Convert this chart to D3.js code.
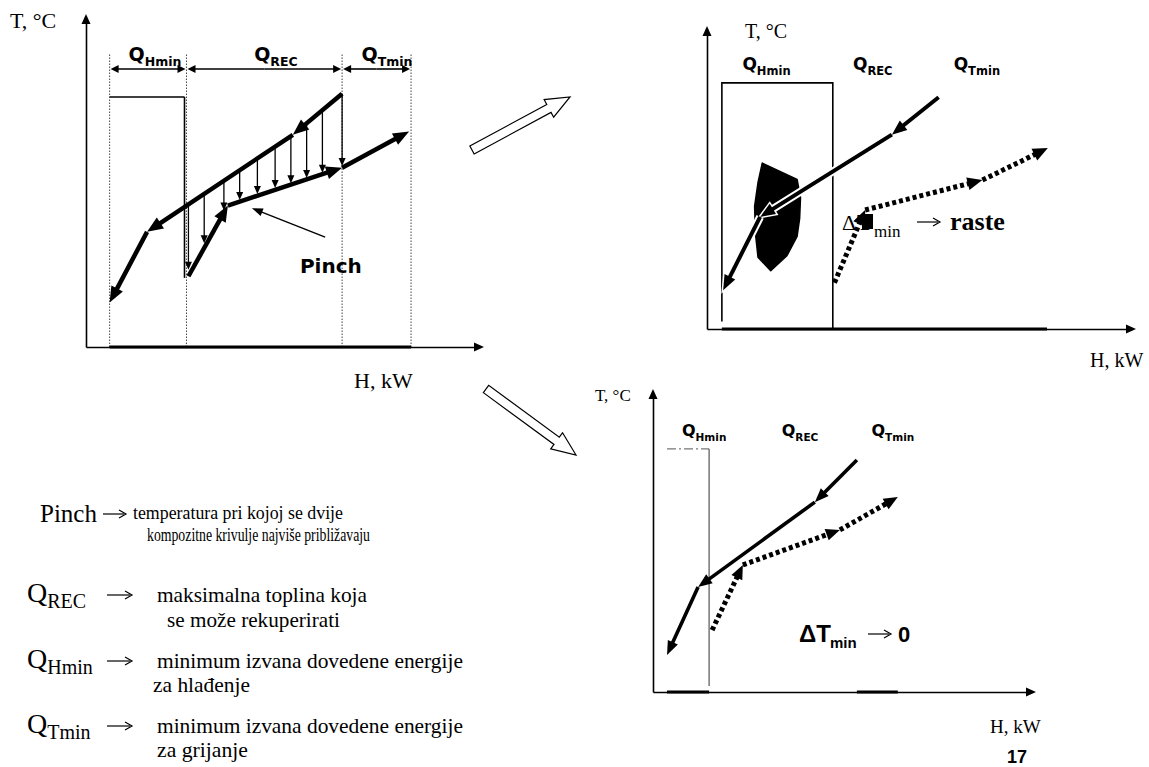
<!DOCTYPE html>
<html>
<head>
<meta charset="utf-8">
<script src="https://cdn.jsdelivr.net/npm/d3@7"></script>
<style>
  body { margin: 0; background: #fff; }
  svg { display: block; }
</style>
</head>
<body>
<div id="chart"></div>
<script>
const black = "#000";
const serif = "'Liberation Serif', 'Times New Roman', serif";
const sansWide = "'DejaVu Sans', Verdana, sans-serif";
const sans = "'Liberation Sans', Arial, sans-serif";

const qNames = ["Hmin", "REC", "Tmin"];

// top-left: H and T as % of axis length
const p1Dividers = [6, 25.5, 65, 82.5];
const p1LabelH = [17.5, 48.2, 76.4];
const p1Hot = [[65, 77], [52.5, 64.5], [15.5, 35], [6, 13.5]];
const p1Cold = [[26, 21.5], [36, 43], [65, 54.5], [82, 65.5]];
const p1DropH = [26, 30, 35, 39, 43.5, 48, 52, 56, 60, 65];
const p1DropTop = [43.4, 46.6, 50.5, 53.7, 57.3, 60.9, 64.1, 68, 72, 77];
const p1DropBottom = [23.5, 31.5, 41.5, 44.7, 46.5, 48.3, 49.8, 51.4, 53, 55];
const p1Box = [6, 25, 76, 21]; // left H, right H, top T, bottom T of right edge
const p1Pinch = [[60.7, 33.4], [42.1, 42.2]];

// top-right: wider ΔTmin
const p2LabelH = [14, 39, 63.5];
const p2Hot = [[54.5, 77.5], [43.5, 65], [12.5, 37.5], [3.8, 13]];
const p2Cold = [[30, 15.5], [37.2, 39.8], [64.8, 49.8], [80.2, 60.5]];
const p2Box = [3.5, 29.6, 82.3];
const p2Base = [3.5, 80];
const p2Blob = [[13, 55.5], [21.2, 50], [22, 44], [21.8, 37], [21.2, 31], [18.8, 24.5],
  [15, 19.5], [12, 24], [11.4, 32], [11.2, 41], [12, 49]];

// bottom-right: ΔTmin -> 0
const p3LabelH = [13.5, 38.8, 63.3];
const p3Hot = [[53.8, 77.6], [42.7, 63.5], [11.9, 35.1], [3.7, 12.4]];
const p3Cold = [[15.6, 20.7], [23.7, 42.5], [49.3, 54.2], [64.6, 65.2]];
const p3Box = [3.7, 14.8, 81.3];
const p3Base = [[3.7, 14.8], [53.8, 64.6]];

// legend
const legendTerms = ["Pinch", "REC", "Hmin", "Tmin"];
const legendLines = [
  ["temperatura pri kojoj se dvije", "kompozitne krivulje najviše približavaju"],
  ["maksimalna toplina koja", "se može  rekuperirati"],
  ["minimum izvana dovedene energije", "za hlađenje"],
  ["minimum izvana dovedene energije", "za grijanje"]
];

const svg = d3.select("#chart").append("svg")
  .attr("width", 1149).attr("height", 767)
  .style("background", "#fff");

function arrow(g, a, b, o) {
  const dx = b[0] - a[0], dy = b[1] - a[1];
  const len = Math.hypot(dx, dy);
  const ux = dx / len, uy = dy / len;
  const L = o.head, W = o.headW / 2;
  const base = [b[0] - ux * L, b[1] - uy * L];
  const end = [b[0] - ux * L * 0.6, b[1] - uy * L * 0.6];
  const tri = `M${b[0]},${b[1]}L${base[0] - uy * W},${base[1] + ux * W}L${base[0] + uy * W},${base[1] - ux * W}Z`;
  if (o.halo) {
    g.append("line")
      .attr("x1", a[0]).attr("y1", a[1]).attr("x2", end[0]).attr("y2", end[1])
      .attr("stroke", "#fff").attr("stroke-width", o.width + 4);
    g.append("path").attr("d", tri).attr("fill", "#fff")
      .attr("stroke", "#fff").attr("stroke-width", 3);
  }
  g.append("line")
    .attr("x1", a[0]).attr("y1", a[1]).attr("x2", end[0]).attr("y2", end[1])
    .attr("stroke", black).attr("stroke-width", o.width)
    .attr("stroke-dasharray", o.dash || null);
  g.append("path").attr("d", tri).attr("fill", black);
}

// thin "→" sign, drawn so it keeps its length in every font
function textArrow(g, x0, x1, yy) {
  g.append("line").attr("x1", x0).attr("x2", x1 - 2).attr("y1", yy).attr("y2", yy)
    .attr("stroke", black).attr("stroke-width", 1.2);
  g.append("path")
    .attr("d", `M${x1 - 7},${yy - 4}L${x1},${yy}L${x1 - 7},${yy + 4}`)
    .attr("fill", "none").attr("stroke", black).attr("stroke-width", 1.2);
}

function curve(g, pts, x, y, o) {
  for (let i = 0; i < pts.length - 1; i++) {
    arrow(g, [x(pts[i][0]), y(pts[i][1])], [x(pts[i + 1][0]), y(pts[i + 1][1])], o);
  }
}

function axes(g, x, y, w) {
  g.append("g").attr("transform", `translate(0,${y(0)})`)
    .call(d3.axisBottom(x).tickValues([]).tickSizeOuter(0))
    .call((s) => s.select(".domain").attr("stroke-width", w));
  g.append("g").attr("transform", `translate(${x(0)},0)`)
    .call(d3.axisLeft(y).tickValues([]).tickSizeOuter(0))
    .call((s) => s.select(".domain").attr("stroke-width", w));
  const xe = x(100), ye = y(0), xo = x(0), yt = y(100);
  g.append("path").attr("d", `M${xe + 4},${ye}L${xe - 6},${ye - 4.5}L${xe - 6},${ye + 4.5}Z`).attr("fill", black);
  g.append("path").attr("d", `M${xo},${yt - 4}L${xo - 4.5},${yt + 6}L${xo + 4.5},${yt + 6}Z`).attr("fill", black);
}

function qLabel(g, x, y, sub, qSize, subSize, font) {
  const t = g.append("text").attr("x", x).attr("y", y)
    .attr("text-anchor", "middle")
    .style("font-family", font).style("font-weight", "bold").attr("fill", black);
  t.append("tspan").attr("font-size", qSize).text("Q");
  t.append("tspan").attr("font-size", subSize).attr("dy", qSize * 0.28).text(sub);
}

function label(g, x, y, txt, size, font, weight) {
  return g.append("text").attr("x", x).attr("y", y)
    .style("font-family", font).style("font-size", size + "px")
    .style("font-weight", weight || "normal").attr("fill", black).text(txt);
}

// ---------- panel 1 ----------
{
  const x = d3.scaleLinear().domain([0, 100]).range([86, 480]);
  const y = d3.scaleLinear().domain([0, 100]).range([347, 18]);
  const g = svg.append("g");

  g.selectAll(".div").data(p1Dividers).enter().append("line")
    .attr("x1", (d) => x(d)).attr("x2", (d) => x(d))
    .attr("y1", y(0)).attr("y2", y(89))
    .attr("stroke", "#444").attr("stroke-width", 1).attr("stroke-dasharray", "1.5,1.5");

  axes(g, x, y, 1.6);
  g.append("line").attr("x1", x(p1Dividers[0])).attr("x2", x(p1Dividers[3]))
    .attr("y1", y(0)).attr("y2", y(0)).attr("stroke", black).attr("stroke-width", 3);

  // heat-flow brackets
  for (let i = 0; i < 3; i++) {
    const a = x(p1Dividers[i]) + 1, b = x(p1Dividers[i + 1]) - 1, m = (a + b) / 2, yy = y(84.5);
    arrow(g, [m, yy], [a, yy], { width: 1.6, head: 8, headW: 8 });
    arrow(g, [m, yy], [b, yy], { width: 1.6, head: 8, headW: 8 });
    qLabel(g, x(p1LabelH[i]), y(87), qNames[i], 19, 12.5, sansWide);
  }

  g.append("line").attr("x1", x(p1Box[0])).attr("x2", x(p1Box[1]))
    .attr("y1", y(p1Box[2])).attr("y2", y(p1Box[2])).attr("stroke", black).attr("stroke-width", 1.4);
  g.append("line").attr("x1", x(p1Box[1])).attr("x2", x(p1Box[1]))
    .attr("y1", y(p1Box[2])).attr("y2", y(p1Box[3])).attr("stroke", black).attr("stroke-width", 1.6);

  p1DropH.forEach((h, i) => {
    arrow(g, [x(h), y(p1DropTop[i])], [x(h), y(p1DropBottom[i])], { width: 1.3, head: 8, headW: 7 });
  });

  curve(g, p1Hot, x, y, { width: 4.5, head: 16, headW: 13 });
  curve(g, p1Cold, x, y, { width: 4.5, head: 16, headW: 13 });

  arrow(g, [x(p1Pinch[0][0]), y(p1Pinch[0][1])], [x(p1Pinch[1][0]), y(p1Pinch[1][1])],
    { width: 1.4, head: 11, headW: 8 });
  label(g, x(54.3), y(22.5), "Pinch", 20, sansWide, "bold");

  label(g, 10, 28, "T, °C", 22, serif);
  label(g, 354, 388, "H, kW", 22, serif);
}

// ---------- panel 2 ----------
{
  const x = d3.scaleLinear().domain([0, 100]).range([707, 1132]);
  const y = d3.scaleLinear().domain([0, 100]).range([329, 30]);
  const g = svg.append("g");

  axes(g, x, y, 1.6);
  g.append("line").attr("x1", x(p2Base[0])).attr("x2", x(p2Base[1]))
    .attr("y1", y(0)).attr("y2", y(0)).attr("stroke", black).attr("stroke-width", 3);

  g.append("path")
    .attr("d", `M${x(p2Box[0])},${y(2.5)}V${y(p2Box[2])}H${x(p2Box[1])}V${y(0)}`)
    .attr("fill", "none").attr("stroke", black).attr("stroke-width", 1.6);

  g.append("path").datum(p2Blob)
    .attr("d", d3.line().x((d) => x(d[0])).y((d) => y(d[1])).curve(d3.curveLinearClosed))
    .attr("fill", black).attr("stroke", black).attr("stroke-width", 1.5).attr("stroke-linejoin", "round");

  for (let i = 0; i < 3; i++) qLabel(g, x(p2LabelH[i]), y(86.5), qNames[i], 17, 11.5, sansWide);

  curve(g, p2Cold, x, y, { width: 5, head: 15, headW: 13, dash: "4,3" });
  curve(g, p2Hot, x, y, { width: 4, head: 15, headW: 12, halo: true });

  label(g, 842, 230, "Δ", 22, serif);
  label(g, 857, 230, "T", 24, serif, "bold");
  g.append("rect").attr("x", 862).attr("y", 214).attr("width", 11).attr("height", 15).attr("fill", black);
  label(g, 874, 237, "min", 17, serif);
  textArrow(g, 917, 940, 222);
  label(g, 950, 230, "raste", 26, serif, "bold");

  label(g, 745, 38, "T, °C", 20, serif);
  label(g, 1090, 367, "H, kW", 20, serif);
}

// ---------- panel 3 ----------
{
  const x = d3.scaleLinear().domain([0, 100]).range([653, 1032]);
  const y = d3.scaleLinear().domain([0, 100]).range([692, 393]);
  const g = svg.append("g");

  axes(g, x, y, 1.6);
  p3Base.forEach((s) => {
    g.append("line").attr("x1", x(s[0])).attr("x2", x(s[1]))
      .attr("y1", y(0)).attr("y2", y(0)).attr("stroke", black).attr("stroke-width", 3);
  });

  g.append("line").attr("x1", x(p3Box[0])).attr("x2", x(p3Box[1]))
    .attr("y1", y(p3Box[2])).attr("y2", y(p3Box[2]))
    .attr("stroke", "#777").attr("stroke-width", 1.2).attr("stroke-dasharray", "9,3,2,3");
  g.append("line").attr("x1", x(p3Box[1])).attr("x2", x(p3Box[1]))
    .attr("y1", y(p3Box[2])).attr("y2", y(2))
    .attr("stroke", "#333").attr("stroke-width", 1);

  for (let i = 0; i < 3; i++) qLabel(g, x(p3LabelH[i]), y(85.5), qNames[i], 16, 10.5, sansWide);

  curve(g, p3Cold, x, y, { width: 5, head: 14, headW: 12, dash: "4,3" });
  curve(g, p3Hot, x, y, { width: 3.6, head: 14, headW: 11 });

  label(g, 799, 642, "ΔT", 24, sans, "bold");
  label(g, 830, 648, "min", 15, sans, "bold");
  textArrow(g, 868, 891, 634);
  label(g, 898, 642, "0", 22, sans, "bold");

  label(g, 595, 401, "T, °C", 17, serif);
  label(g, 990, 733, "H, kW", 19, serif);
  label(g, 1007, 763, "17", 18, sans, "bold");
}

// ---------- transition arrows ----------
function hollowArrow(tail, tip) {
  const dx = tip[0] - tail[0], dy = tip[1] - tail[1];
  const len = Math.hypot(dx, dy), ux = dx / len, uy = dy / len;
  const nx = -uy, ny = ux, sw = 4.5, hw = 10, hl = 24;
  const hb = [tip[0] - ux * hl, tip[1] - uy * hl];
  const pts = [
    [tail[0] + nx * sw, tail[1] + ny * sw], [hb[0] + nx * sw, hb[1] + ny * sw],
    [hb[0] + nx * hw, hb[1] + ny * hw], tip,
    [hb[0] - nx * hw, hb[1] - ny * hw], [hb[0] - nx * sw, hb[1] - ny * sw],
    [tail[0] - nx * sw, tail[1] - ny * sw]
  ];
  svg.append("path").attr("d", "M" + pts.join("L") + "Z")
    .attr("fill", "#fff").attr("stroke", black).attr("stroke-width", 1.2);
}
hollowArrow([472, 150], [570, 97]);
hollowArrow([486, 389], [576, 455]);

// ---------- legend ----------
const rowY = [522, 602, 668, 733];
legendTerms.forEach((term, i) => {
  if (i === 0) {
    label(svg, 40, rowY[i], term, 25, serif);
    textArrow(svg, 103, 126, rowY[i] - 8);
  } else {
    const t = svg.append("text").attr("x", 27).attr("y", rowY[i])
      .style("font-family", serif).attr("fill", black);
    t.append("tspan").attr("font-size", 28).text("Q");
    t.append("tspan").attr("font-size", 20).attr("dy", 6).text(term);
    textArrow(svg, 107, 132, rowY[i] - 7);
  }
});

const lineX = [[133, 147], [157, 167], [157, 153], [157, 157]];
const lineY = [[519, 541], [602, 627], [668, 692], [733, 757]];
const lineW = [[210, 223], [210, 173], [306, 97], [306, 91]];
const lineSize = [[18, 19], [21, 21], [21, 21], [21, 21]];
legendLines.forEach((rows, i) => {
  rows.forEach((txt, j) => {
    label(svg, lineX[i][j], lineY[i][j], txt, lineSize[i][j], serif)
      .attr("textLength", lineW[i][j]).attr("lengthAdjust", "spacingAndGlyphs");
  });
});
</script>
</body>
</html>
